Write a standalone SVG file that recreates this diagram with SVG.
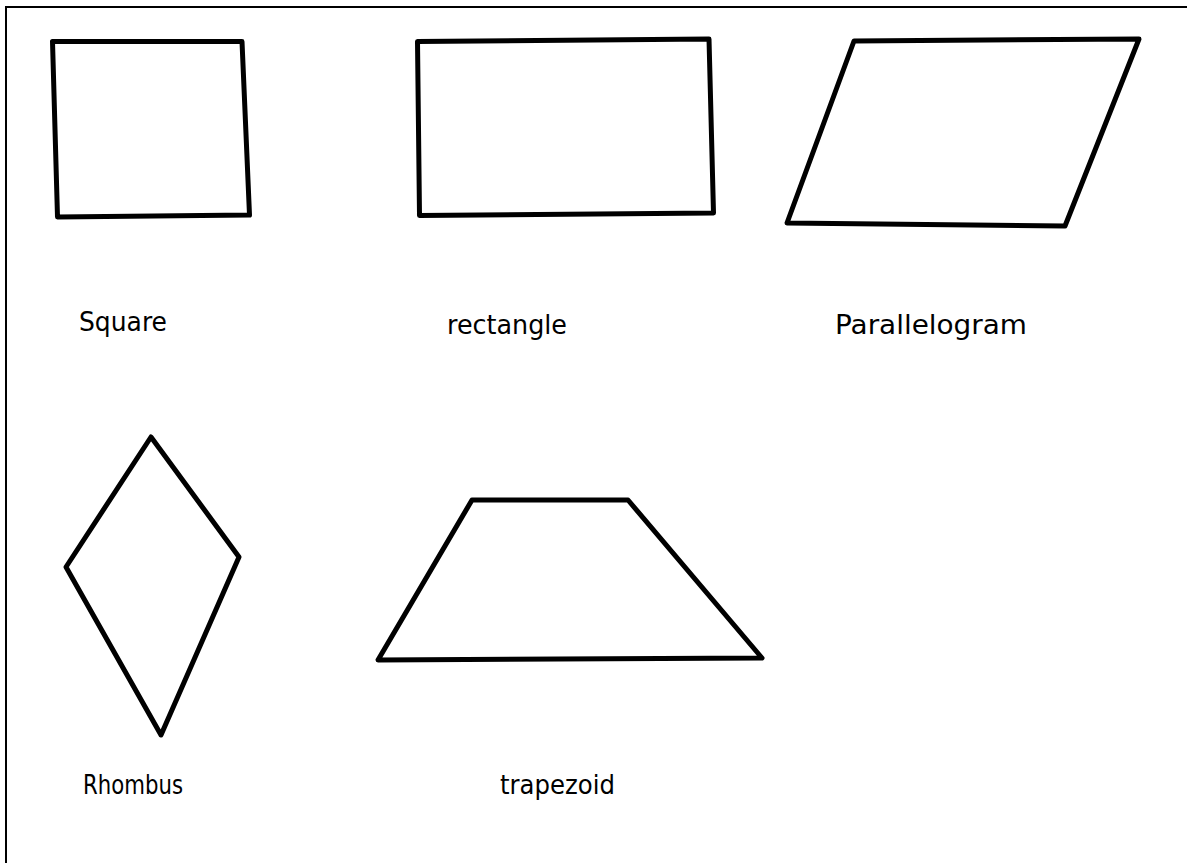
<svg xmlns="http://www.w3.org/2000/svg" width="1187" height="863" viewBox="0 0 1187 863">
<style>
.shape{fill:none;stroke:#000;stroke-width:5;stroke-linejoin:round}
.lbl{font-family:"Comic Sans MS","DejaVu Sans",sans-serif;font-size:26px;fill:#000}
</style>
<rect x="0" y="0" width="1187" height="863" fill="#fff"/>
<rect id="frame" x="6" y="7" width="1200" height="880" fill="none" stroke="#000" stroke-width="2"/>
<g id="square">
<polygon class="shape" points="52.5,41.5 242,41.5 249.5,215 57.5,217"/>
<text class="lbl" x="79" y="331" textLength="88" lengthAdjust="spacingAndGlyphs">Square</text>
</g>
<g id="rectangle">
<polygon class="shape" points="417.5,41.5 709,39 713.5,213 419.5,215.5"/>
<text class="lbl" x="447" y="334" textLength="120" lengthAdjust="spacingAndGlyphs">rectangle</text>
</g>
<g id="parallelogram">
<polygon class="shape" points="854,41 1139,39 1065,226 787,223"/>
<text class="lbl" x="835" y="334" textLength="192" lengthAdjust="spacingAndGlyphs">Parallelogram</text>
</g>
<g id="rhombus">
<polygon class="shape" points="151,437 239,557 161,735 66,567"/>
<text class="lbl" x="83" y="794" textLength="100" lengthAdjust="spacingAndGlyphs">Rhombus</text>
</g>
<g id="trapezoid">
<polygon class="shape" points="472,500 628,500 762,658 378,660"/>
<text class="lbl" x="500" y="794" textLength="115" lengthAdjust="spacingAndGlyphs">trapezoid</text>
</g>
<g id="connectors"/>
</svg>
